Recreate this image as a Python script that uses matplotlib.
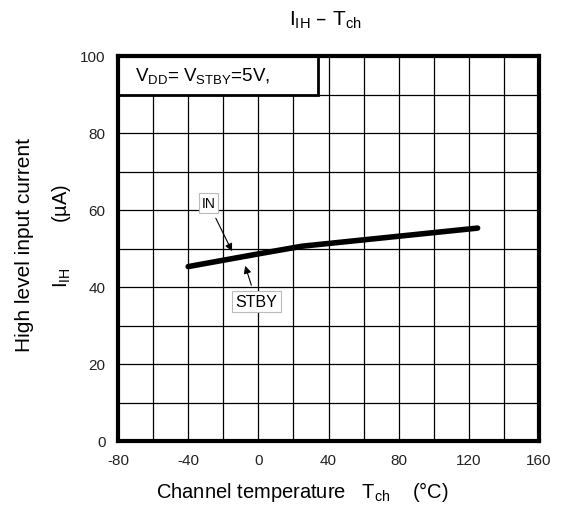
import matplotlib as mpl
from matplotlib import pyplot as plt
from matplotlib.patches import Rectangle

# data
temps = [-40, 0, 25, 125]
current = [45.3, 48.6, 50.6, 55.3]

x_ticks = [-80, -40, 0, 40, 80, 120, 160]
y_ticks = [0, 20, 40, 60, 80, 100]
x_grid = list(range(-80, 161, 20))
y_grid = list(range(0, 101, 10))

mpl.rcParams.update({
    "font.family": ["Liberation Sans", "DejaVu Sans"],
    "mathtext.default": "regular",
    "axes.unicode_minus": False,
})

fig = plt.figure(figsize=(5.72, 5.10), dpi=100)
ax = fig.add_axes([118 / 572, 68 / 510, 421 / 572, 385 / 510])

for xv in x_grid:
    ax.axvline(xv, color="black", linewidth=0.9, zorder=1)
for yv in y_grid:
    ax.axhline(yv, color="black", linewidth=0.9, zorder=1)

ax.plot(temps, current, color="black", linewidth=4.0, solid_capstyle="round", zorder=4)

ax.set_xlim(-80, 160)
ax.set_ylim(0, 100)
ax.set_xticks(x_ticks)
ax.set_yticks(y_ticks)
ax.tick_params(axis="x", length=0, labelsize=11, colors="#222222", pad=9)
ax.tick_params(axis="y", length=0, labelsize=11, colors="#222222", pad=9)
for spine in ax.spines.values():
    spine.set_linewidth(3.0)
    spine.set_color("black")
    spine.set_zorder(5)

# condition box in the top-left corner
ax.add_patch(Rectangle((-80, 90), 114, 10, facecolor="white", edgecolor="black",
                       linewidth=2.0, zorder=3))
ax.text(-70.5, 95, "$V_{DD}$= $V_{STBY}$=5V,", fontsize=13.5, va="center", ha="left", zorder=6)

# series annotations
box = dict(boxstyle="square,pad=0.2", facecolor="white", edgecolor="#bbbbbb", linewidth=0.8)
ax.annotate("IN", xy=(-15, 49.3), xytext=(-28.5, 61.8), fontsize=10, ha="center", va="center",
            bbox=box, zorder=6,
            arrowprops=dict(arrowstyle="-|>", color="black", linewidth=0.8, mutation_scale=11,
                            shrinkA=4, shrinkB=0))
ax.annotate("STBY", xy=(-7.5, 45.5), xytext=(-1, 36.2), fontsize=11.5, ha="center", va="center",
            bbox=box, zorder=6,
            arrowprops=dict(arrowstyle="-|>", color="black", linewidth=0.8, mutation_scale=11,
                            shrinkA=4, shrinkB=0))

fig.text(325 / 572, 1 - 20 / 510, "$I_{IH}$ – $T_{ch}$", ha="center", va="center", fontsize=15)
fig.text(302 / 572, 1 - 492 / 510, "Channel temperature   $T_{ch}$    (°C)",
         ha="center", va="center", fontsize=14.5)
fig.text(25 / 572, 1 - 245 / 510, "High level input current", rotation=90,
         ha="center", va="center", fontsize=15)
fig.text(62 / 572, 1 - 236 / 510, "$I_{IH}$        (µA)", rotation=90,
         ha="center", va="center", fontsize=14.5)

fig.savefig("out.png", dpi=100, facecolor="white")
